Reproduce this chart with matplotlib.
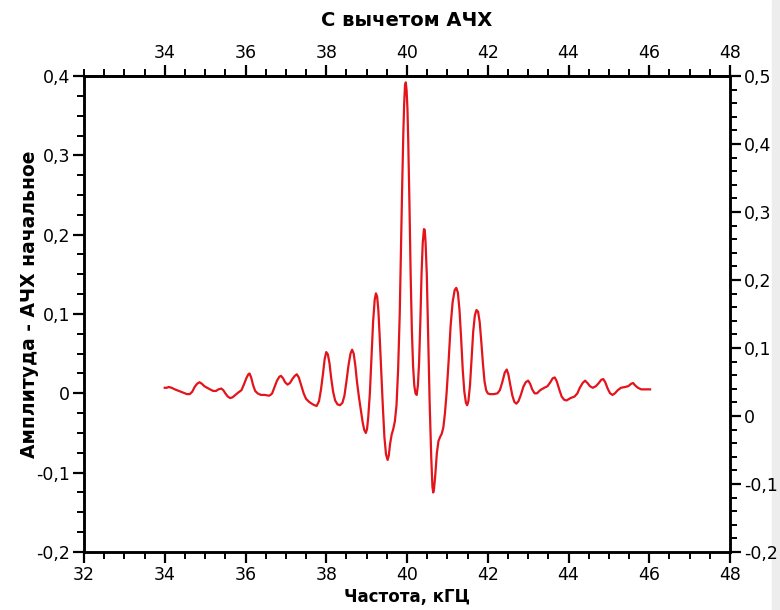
import matplotlib.pyplot as plt
from matplotlib.ticker import MultipleLocator, FuncFormatter
from matplotlib.patches import Rectangle

# Frequency (kHz) and amplitude difference
freq = [34.00, 34.05, 34.10, 34.17, 34.25, 34.35, 34.45, 34.55, 34.62, 34.68,
        34.74, 34.80, 34.86, 34.92, 34.98, 35.05, 35.12, 35.20, 35.27, 35.33,
        35.40, 35.45, 35.50, 35.56, 35.62, 35.68, 35.75, 35.82, 35.90, 35.96,
        36.02, 36.07, 36.10, 36.14, 36.19, 36.24, 36.30, 36.38, 36.48, 36.58,
        36.62, 36.66, 36.72, 36.78, 36.84, 36.88, 36.93, 36.98, 37.04, 37.10,
        37.16, 37.22, 37.27, 37.32, 37.38, 37.44, 37.50, 37.58, 37.67, 37.76,
        37.82, 37.87, 37.92, 37.96, 38.00, 38.04, 38.08, 38.12, 38.17, 38.22,
        38.28, 38.34, 38.40, 38.45, 38.50, 38.55, 38.60, 38.64, 38.68, 38.72,
        38.76, 38.81, 38.86, 38.90, 38.94, 38.98, 39.01, 39.04, 39.08, 39.12,
        39.16, 39.20, 39.23, 39.26, 39.29, 39.32, 39.36, 39.40, 39.44, 39.48,
        39.52, 39.55, 39.58, 39.62, 39.66, 39.70, 39.74, 39.78, 39.82, 39.85,
        39.88, 39.91, 39.93, 39.95, 39.97, 39.99, 40.01, 40.03, 40.06, 40.09,
        40.12, 40.15, 40.18, 40.21, 40.24, 40.27, 40.30, 40.33, 40.36, 40.39,
        40.42, 40.44, 40.46, 40.49, 40.52, 40.56, 40.60, 40.63, 40.65, 40.67,
        40.70, 40.74, 40.78, 40.82, 40.86, 40.90, 40.94, 40.98, 41.03, 41.08,
        41.13, 41.18, 41.22, 41.26, 41.30, 41.34, 41.38, 41.42, 41.46, 41.49,
        41.52, 41.56, 41.60, 41.64, 41.68, 41.72, 41.76, 41.80, 41.84, 41.88,
        41.92, 41.96, 42.00, 42.05, 42.15, 42.24, 42.30, 42.36, 42.42, 42.47,
        42.51, 42.56, 42.61, 42.66, 42.71, 42.76, 42.82, 42.88, 42.94, 43.00,
        43.05, 43.10, 43.16, 43.22, 43.30, 43.40, 43.48, 43.55, 43.61, 43.66,
        43.71, 43.77, 43.83, 43.89, 43.95, 44.05, 44.15, 44.22, 44.28, 44.35,
        44.41, 44.47, 44.53, 44.60, 44.68, 44.75, 44.81, 44.86, 44.91, 44.97,
        45.03, 45.09, 45.15, 45.22, 45.30, 45.40, 45.48, 45.55, 45.60, 45.65,
        45.72, 45.80, 45.90, 46.02]
ampl = [0.007, 0.007, 0.008, 0.007, 0.005, 0.003, 0.001, -0.001, -0.001, 0.002,
        0.008, 0.012, 0.014, 0.012, 0.009, 0.007, 0.005, 0.003, 0.003, 0.005,
        0.006, 0.004, 0.000, -0.004, -0.006, -0.005, -0.002, 0.001, 0.004, 0.011,
        0.019, 0.024, 0.025, 0.020, 0.010, 0.003, 0.000, -0.002, -0.002, -0.003,
        -0.002, 0.000, 0.008, 0.016, 0.021, 0.022, 0.019, 0.014, 0.011, 0.013,
        0.018, 0.022, 0.024, 0.020, 0.010, 0.000, -0.007, -0.011, -0.014, -0.016,
        -0.010, 0.005, 0.025, 0.043, 0.052, 0.049, 0.038, 0.020, 0.002, -0.009,
        -0.014, -0.015, -0.012, -0.003, 0.015, 0.035, 0.050, 0.055, 0.050, 0.035,
        0.015, -0.005, -0.022, -0.036, -0.046, -0.050, -0.045, -0.030, 0.000, 0.045,
        0.090, 0.118, 0.126, 0.122, 0.105, 0.075, 0.030, -0.015, -0.055, -0.077,
        -0.084, -0.078, -0.064, -0.052, -0.045, -0.035, -0.015, 0.030, 0.100, 0.180,
        0.260, 0.330, 0.365, 0.388, 0.392, 0.382, 0.360, 0.320, 0.240, 0.150,
        0.080, 0.035, 0.010, 0.000, -0.002, 0.010, 0.040, 0.090, 0.150, 0.190,
        0.207, 0.206, 0.190, 0.150, 0.080, -0.010, -0.080, -0.118, -0.125, -0.120,
        -0.103, -0.075, -0.060, -0.055, -0.051, -0.043, -0.025, 0.000, 0.040, 0.085,
        0.115, 0.130, 0.133, 0.127, 0.105, 0.070, 0.030, 0.002, -0.012, -0.015,
        -0.010, 0.010, 0.045, 0.078, 0.098, 0.105, 0.103, 0.090, 0.065, 0.038,
        0.015, 0.004, 0.000, -0.001, -0.001, 0.000, 0.004, 0.014, 0.026, 0.030,
        0.024, 0.010, -0.003, -0.011, -0.013, -0.010, -0.002, 0.008, 0.014, 0.016,
        0.012, 0.005, 0.000, 0.000, 0.004, 0.007, 0.009, 0.014, 0.019, 0.020,
        0.015, 0.005, -0.004, -0.008, -0.009, -0.006, -0.004, 0.000, 0.007, 0.013,
        0.016, 0.013, 0.009, 0.007, 0.009, 0.013, 0.017, 0.018, 0.014, 0.006,
        0.000, -0.002, 0.000, 0.004, 0.007, 0.008, 0.009, 0.012, 0.013, 0.010,
        0.007, 0.005, 0.005, 0.005]
assert len(freq) == len(ampl)

top_ticks = [34, 36, 38, 40, 42, 44, 46, 48]


def comma(v, pos):
    s = f"{v:.1f}".replace(".", ",")
    if s in ("0,0", "-0,0"):
        return "0"
    return s


fig = plt.figure(figsize=(7.8, 6.1), dpi=100)
fig.patches.append(Rectangle((0.99, 0), 0.01, 1, transform=fig.transFigure,
                             color="#ededed", zorder=-1))
ax = fig.add_axes([0.1077, 0.0951, 0.8282, 0.7803])

ax.plot(freq, ampl, color="#e3141b", lw=1.6)

ax.set_xlim(32, 48)
ax.set_ylim(-0.2, 0.4)
ax.xaxis.set_major_locator(MultipleLocator(2))
ax.xaxis.set_minor_locator(MultipleLocator(0.5))
ax.yaxis.set_major_locator(MultipleLocator(0.1))
ax.yaxis.set_minor_locator(MultipleLocator(0.025))
ax.yaxis.set_major_formatter(FuncFormatter(comma))

# top frequency axis
top = ax.secondary_xaxis("top")
top.set_xticks(top_ticks)
top.xaxis.set_minor_locator(MultipleLocator(0.5))

# right amplitude axis
right = ax.twinx()
right.set_ylim(-0.2, 0.5)
right.yaxis.set_major_locator(MultipleLocator(0.1))
right.yaxis.set_minor_locator(MultipleLocator(0.02))
right.yaxis.set_major_formatter(FuncFormatter(comma))

for a in (ax, top, right):
    a.tick_params(which="major", length=8, width=1.6, labelsize=12.5, pad=2)
    a.tick_params(which="minor", length=5, width=1.4)
for s in ax.spines.values():
    s.set_linewidth(1.8)
for s in right.spines.values():
    s.set_linewidth(1.8)
top.spines["top"].set_linewidth(1.8)

ax.set_title("С вычетом АЧХ", fontsize=14, fontweight="bold", pad=36)
ax.set_xlabel("Частота, кГЦ", fontsize=12, fontweight="bold", labelpad=3)
ax.set_ylabel("Амплитуда - АЧХ начальное", fontsize=13.5, fontweight="bold")
ax.yaxis.set_label_coords(-0.07, 0.52)

fig.savefig("out.png", dpi=100)
